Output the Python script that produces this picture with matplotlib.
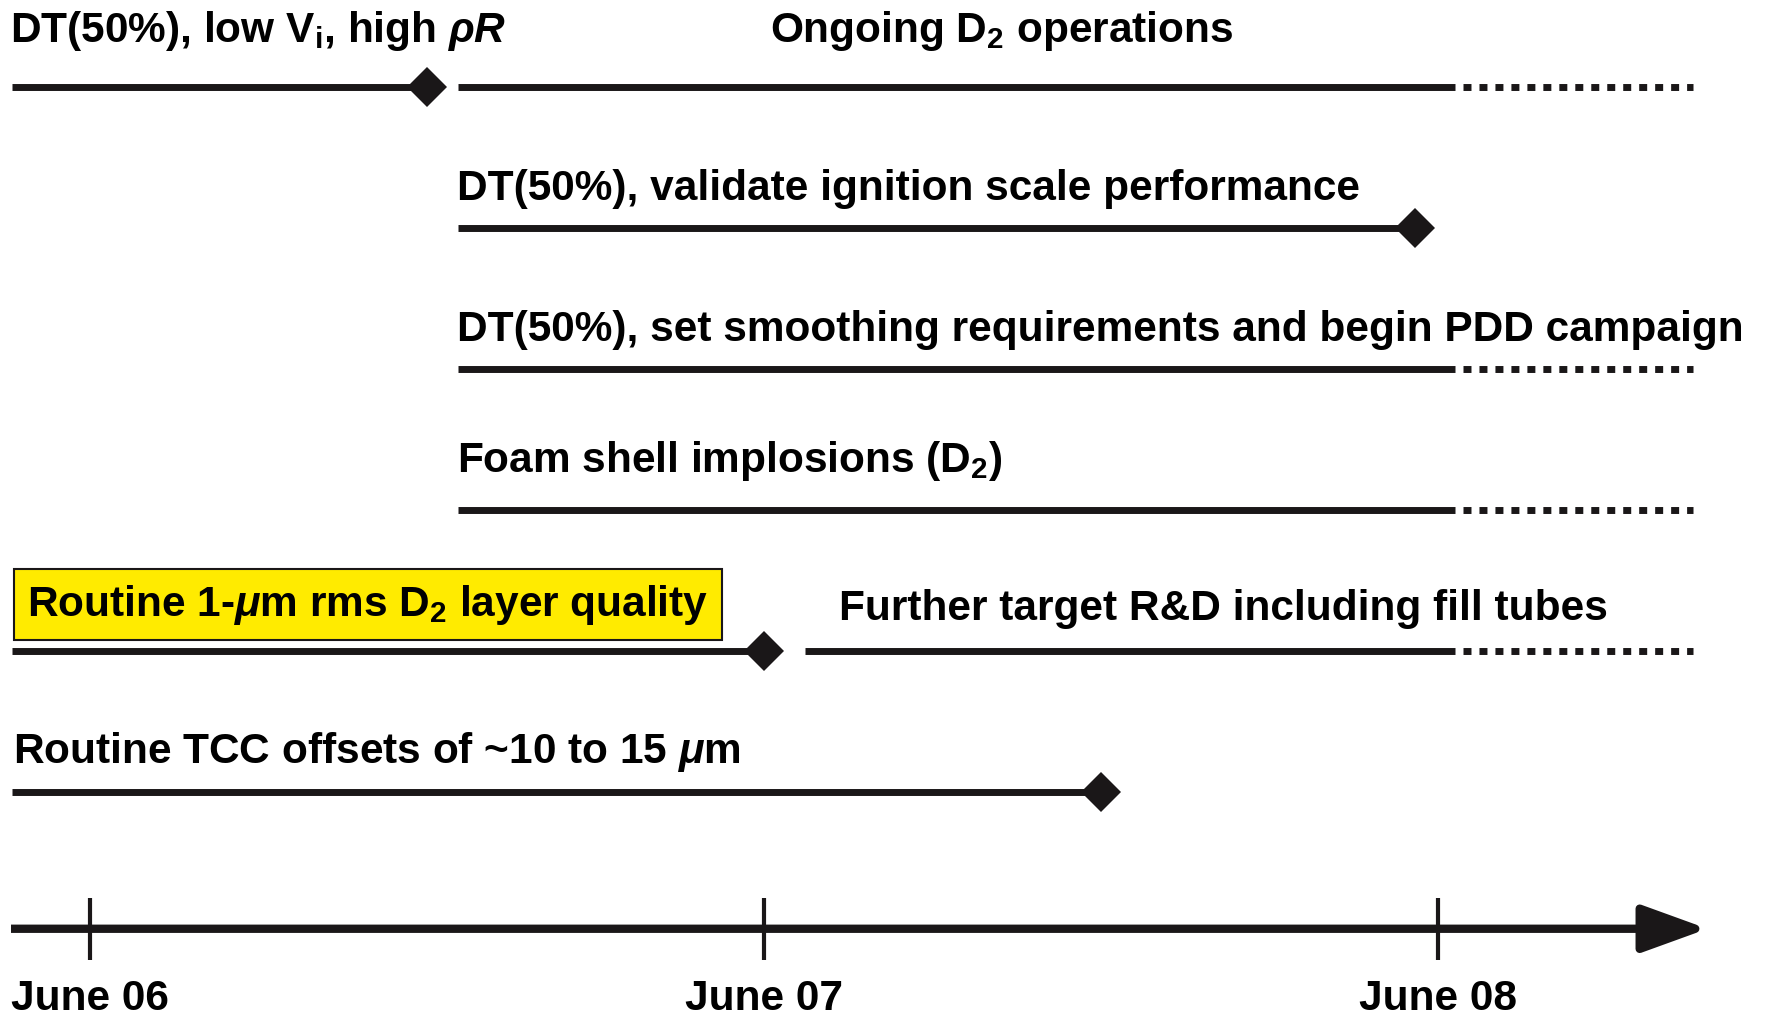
import matplotlib.pyplot as plt

plt.rcParams["font.family"] = ["Liberation Sans", "DejaVu Sans"]
plt.rcParams["font.weight"] = "bold"
plt.rcParams["mathtext.fontset"] = "custom"
plt.rcParams["mathtext.rm"] = "Liberation Sans:bold"
plt.rcParams["mathtext.it"] = "Liberation Sans:italic:bold"
plt.rcParams["mathtext.bf"] = "Liberation Sans:bold"

# time in months, counted from June 06
tick_months = [0, 12, 24]
tick_labels = ["June 06", "June 07", "June 08"]

# one entry per bar segment
seg_rows = [0, 0, 1, 2, 3, 4, 4, 5]
seg_start = [-1.4, 6.55, 6.55, 6.55, 6.55, -1.4, 12.73, -1.4]
seg_end = [6.0, 24.3, 23.6, 24.3, 24.3, 12.0, 24.3, 18.0]
milestone = [True, False, True, False, False, True, False, True]
ongoing = [False, True, False, True, True, False, True, False]
ongoing_end = 28.55

labels = [
    r"DT(50%), low V$_\mathrm{i}$, high $\rho R$",
    r"Ongoing D$_2$ operations",
    "DT(50%), validate ignition scale performance",
    "DT(50%), set smoothing requirements and begin PDD campaign",
    r"Foam shell implosions (D$_2$)",
    r"Routine 1-$\mu$m rms D$_2$ layer quality",
    "Further target R&D including fill tubes",
    r"Routine TCC offsets of ~10 to 15 $\mu$m",
]
highlight = [False, False, False, False, False, True, False, False]

# layout: label offsets (months right of segment start, rows above line)
label_dx = [-0.02, 5.55, -0.02, -0.02, -0.02, 0.28, 0.6, 0.03]
label_dy = [0.32, 0.32, 0.2, 0.2, 0.27, 0.25, 0.22, 0.206]
axis_row = 5.97
fs = 30.5

fig = plt.figure(figsize=(17.67, 10.19), dpi=100)
ax = fig.add_axes([0, 0, 1, 1])
ax.set_xlim(-1.606, 29.86)
ax.set_ylim(6.61, -0.617)
ax.axis("off")

ink = "#1a1718"
lw = 5
for i in range(len(seg_rows)):
    r = seg_rows[i]
    ax.plot([seg_start[i], seg_end[i]], [r, r], color=ink, lw=lw,
            solid_capstyle="butt")
    if milestone[i]:
        ax.plot(seg_end[i], r, marker="D", ms=20, color=ink, mew=0)
    if ongoing[i]:
        ax.plot([seg_end[i] + 0.14, ongoing_end], [r, r], color=ink, lw=lw,
                linestyle=(0, (1.15, 1.15)), dash_capstyle="butt")
    kw = {}
    if highlight[i]:
        kw["bbox"] = dict(boxstyle="square,pad=0.32", fc="#FFEB00", ec=ink, lw=1.5)
    ax.text(seg_start[i] + label_dx[i], r - label_dy[i], labels[i], fontsize=fs,
            fontweight="bold", va="baseline", ha="left", color="black", **kw)

# time axis with arrow
ax.annotate("", xy=(28.8, axis_row), xytext=(-1.41, axis_row),
            arrowprops=dict(arrowstyle="-|>,head_length=4.0,head_width=1.45",
                            lw=6, color=ink, shrinkA=0, shrinkB=0,
                            mutation_scale=10, capstyle="butt"))
for m, lab in zip(tick_months, tick_labels):
    ax.plot([m, m], [axis_row - 0.22, axis_row + 0.22], color=ink, lw=3,
            solid_capstyle="butt")
    ax.text(m, 6.545, lab, fontsize=fs, fontweight="bold", ha="center",
            va="baseline", color="black")

fig.savefig("out.png", dpi=100)
